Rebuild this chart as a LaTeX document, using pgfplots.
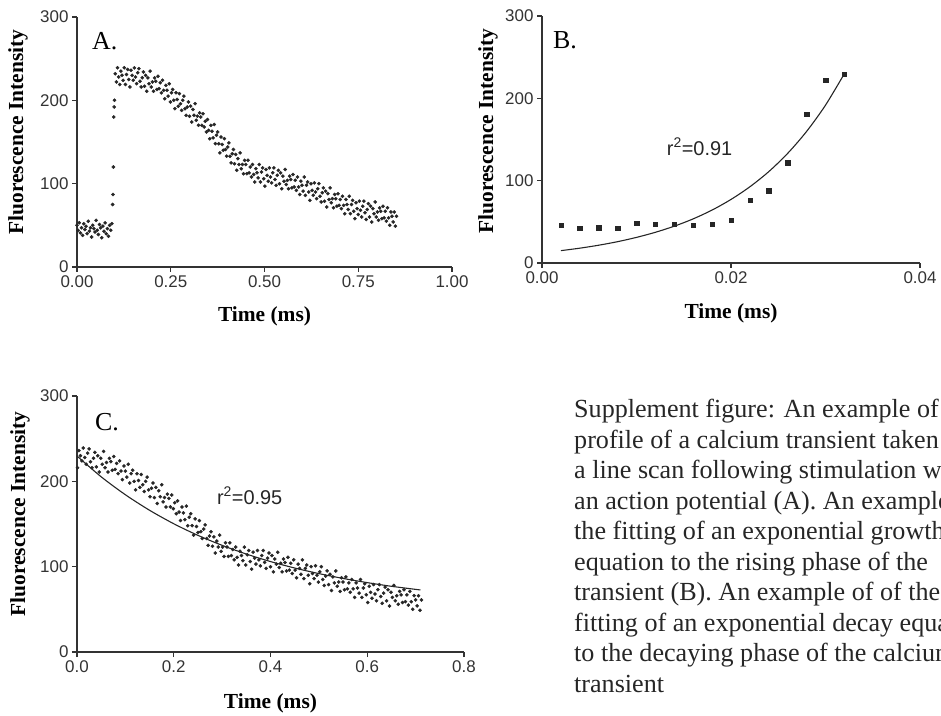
\documentclass[border=0pt]{standalone}
\usepackage{pgfplots}
\usepackage{pgfplotstable}
\pgfplotsset{compat=1.18}
\usepackage{fontspec}
\setmainfont{Liberation Serif}
\newfontfamily\arial{Liberation Sans}

\pgfplotstableread{
t F
0.000 50
0.003 44
0.006 53
0.009 41
0.012 47
0.015 38
0.018 52
0.021 45
0.024 49
0.027 40
0.030 55
0.033 43
0.036 47
0.039 36
0.042 50
0.045 46
0.048 42
0.051 56
0.054 44
0.057 39
0.060 51
0.063 47
0.066 35
0.069 49
0.072 43
0.075 53
0.078 40
0.081 46
0.084 37
0.087 50
0.090 44
0.093 52
0.095 75
0.096 87
0.097 120
0.098 180
0.099 192
0.100 200
0.102 232
0.105 222
0.108 239
0.111 228
0.114 219
0.117 235
0.120 230
0.123 224
0.126 239
0.129 219
0.132 231
0.135 237
0.138 225
0.141 216
0.144 236
0.147 230
0.150 224
0.153 239
0.156 228
0.159 220
0.162 233
0.165 238
0.168 223
0.171 216
0.174 227
0.177 234
0.180 217
0.183 230
0.186 211
0.189 227
0.192 220
0.195 235
0.198 216
0.201 222
0.204 211
0.207 227
0.210 223
0.213 213
0.216 229
0.219 214
0.222 221
0.225 209
0.228 224
0.231 212
0.234 202
0.237 218
0.240 212
0.243 205
0.246 220
0.249 198
0.252 209
0.255 213
0.258 200
0.261 190
0.264 209
0.267 201
0.270 193
0.273 208
0.276 196
0.279 188
0.282 200
0.285 205
0.288 190
0.291 182
0.294 192
0.297 198
0.300 181
0.303 193
0.306 174
0.309 189
0.312 182
0.315 196
0.318 176
0.321 181
0.324 170
0.327 185
0.330 180
0.333 170
0.336 184
0.339 168
0.342 175
0.345 162
0.348 177
0.351 164
0.354 154
0.357 170
0.360 163
0.363 155
0.366 171
0.369 148
0.372 158
0.375 162
0.378 148
0.381 137
0.384 156
0.387 147
0.390 140
0.393 154
0.396 141
0.399 133
0.402 144
0.405 149
0.408 133
0.411 125
0.414 136
0.417 141
0.420 124
0.423 135
0.426 116
0.429 130
0.432 123
0.435 137
0.438 118
0.441 123
0.444 112
0.447 128
0.450 123
0.453 112
0.456 128
0.459 113
0.462 120
0.465 108
0.468 123
0.471 111
0.474 102
0.477 118
0.480 113
0.483 107
0.486 123
0.489 102
0.492 114
0.495 119
0.498 106
0.501 97
0.504 117
0.507 110
0.510 103
0.513 119
0.516 108
0.519 101
0.522 113
0.525 119
0.528 105
0.531 98
0.534 110
0.537 116
0.540 100
0.543 113
0.546 94
0.549 109
0.552 103
0.555 117
0.558 99
0.561 104
0.564 94
0.567 109
0.570 105
0.573 95
0.576 111
0.579 96
0.582 104
0.585 92
0.588 108
0.591 96
0.594 87
0.597 103
0.600 98
0.603 91
0.606 108
0.609 86
0.612 98
0.615 102
0.618 90
0.621 80
0.624 100
0.627 92
0.630 86
0.633 101
0.636 90
0.639 82
0.642 94
0.645 100
0.648 85
0.651 78
0.654 89
0.657 95
0.660 79
0.663 91
0.666 72
0.669 88
0.672 81
0.675 95
0.678 77
0.681 82
0.684 71
0.687 87
0.690 82
0.693 73
0.696 88
0.699 74
0.702 81
0.705 70
0.708 85
0.711 74
0.714 64
0.717 81
0.720 75
0.723 69
0.726 85
0.729 64
0.732 75
0.735 80
0.738 67
0.741 58
0.744 77
0.747 70
0.750 63
0.753 79
0.756 68
0.759 60
0.762 73
0.765 79
0.768 65
0.771 57
0.774 69
0.777 76
0.780 60
0.783 73
0.786 54
0.789 70
0.792 64
0.795 78
0.798 60
0.801 66
0.804 56
0.807 71
0.810 67
0.813 58
0.816 73
0.819 59
0.822 67
0.825 55
0.828 71
0.831 59
0.834 50
0.837 66
0.840 61
0.843 54
0.846 66
0.849 49
0.852 61
}\dataA

\pgfplotstableread{
t F
0.002 46
0.004 42
0.006 43
0.008 42
0.010 48
0.012 47
0.014 47
0.016 46
0.018 47
0.020 52
0.022 76
0.024 88
0.026 122
0.028 181
0.030 222
0.032 229
}\dataB

\pgfplotstableread{
t F
0.002 15.0
0.004 18.0
0.006 21.6
0.008 25.9
0.010 31.1
0.012 37.3
0.014 44.7
0.016 53.6
0.018 64.3
0.020 77.2
0.022 92.6
0.024 111.0
0.026 133.2
0.028 159.8
0.030 191.7
0.032 230.0
}\fitB

\pgfplotstableread{
t F
0.00 229.7
0.05 205.3
0.10 184.3
0.15 166.1
0.20 150.3
0.25 136.7
0.30 125.0
0.35 114.8
0.40 106.0
0.45 98.4
0.50 91.9
0.55 86.2
0.60 81.3
0.65 77.0
0.71 72.7
}\fitC

\pgfplotsset{
  panel/.style={
    scale only axis,
    axis lines*=left,
    axis line style={line width=1.2bp, black!80},
    tick style={line width=1.2bp, black!80},
    tick align=outside,
    major tick length=5bp,
    scaled ticks=false,
    ymin=0, ymax=300, ytick={0,100,200,300},
    tick label style={font=\arial\fontsize{17}{17}\selectfont, text=black!80},
    /pgf/number format/assume math mode=true,
    xlabel={Time (ms)},
    ylabel={Fluorescence Intensity},
    label style={font=\bfseries\fontsize{21.5}{21.5}\selectfont},
    clip=false,
  },
  dots/.style={only marks, mark=*, mark size=1.6bp, black!85, mark options={draw=none, fill=black!85}},
}

\begin{document}
\begin{tikzpicture}
\path[use as bounding box] (0,0) rectangle (941bp,716bp);

% Panel A
\begin{axis}[panel,
  at={(77bp,449bp)}, anchor=south west,
  width=375bp, height=250bp,
  xmin=0, xmax=1, xtick={0,0.25,0.5,0.75,1},
  xticklabels={0.00,0.25,0.50,0.75,1.00},
  xlabel style={at={(axis description cs:0.5,-0.196)}, anchor=center},
  ylabel style={at={(axis description cs:-0.157,0.54)}, anchor=center},
]
\addplot[dots] table[x=t, y=F] {\dataA};
\node[anchor=base west, inner sep=0, font=\fontsize{26}{26}\selectfont] at (axis cs:0.04,260.4) {A.};
\end{axis}

% Panel B
\begin{axis}[panel,
  at={(542bp,453bp)}, anchor=south west,
  width=378bp, height=247bp,
  xmin=0, xmax=0.04, xtick={0,0.02,0.04},
  xticklabels={0.00,0.02,0.04},
  xlabel style={at={(axis description cs:0.5,-0.202)}, anchor=center},
  ylabel style={at={(axis description cs:-0.143,0.534)}, anchor=center},
]
\addplot[only marks, mark=square*, mark size=2.2bp, black!85] table[x=t, y=F] {\dataB};
\addplot[black!85, line width=1.1bp, smooth] table[x=t, y=F] {\fitB};
\node[anchor=west, inner sep=0, font=\arial\fontsize{20}{20}\selectfont, text=black!85] at (axis cs:0.0132,141) {r\textsuperscript{2}=0.91};
\node[anchor=base west, inner sep=0, font=\fontsize{26}{26}\selectfont] at (axis cs:0.00116,261) {B.};
\end{axis}

% Panel C
\begin{axis}[panel,
  at={(77bp,64bp)}, anchor=south west,
  width=387bp, height=256bp,
  xmin=0, xmax=0.8, xtick={0,0.2,0.4,0.6,0.8},
  xticklabels={0.0,0.2,0.4,0.6,0.8},
  xlabel style={at={(axis description cs:0.5,-0.199)}, anchor=center},
  ylabel style={at={(axis description cs:-0.147,0.539)}, anchor=center},
]
\addplot[dots, restrict x to domain=0:0.715] table[x expr=\thisrow{t}-0.14, y=F] {\dataA};
\addplot[black!85, line width=1.1bp, smooth] table[x=t, y=F] {\fitC};
\node[anchor=west, inner sep=0, font=\arial\fontsize{20}{20}\selectfont, text=black!85] at (axis cs:0.289,183) {r\textsuperscript{2}=0.95};
\node[anchor=base west, inner sep=0, font=\fontsize{26}{26}\selectfont] at (axis cs:0.0372,260) {C.};
\end{axis}

% Caption text
\begin{scope}[every node/.style={anchor=base west, inner sep=0, font=\fontsize{26.2}{26.2}\selectfont, text=black!85}]
\node at (574bp,298bp) {Supplement figure: An example of a};
\node at (574bp,267.5bp) {profile of a calcium transient taken from};
\node at (574bp,237bp) {a line scan following stimulation with};
\node at (574bp,206.5bp) {an action potential (A). An example of};
\node at (574bp,176bp) {the fitting of an exponential growth};
\node at (574bp,145.5bp) {equation to the rising phase of the};
\node at (574bp,115bp) {transient (B). An example of of the};
\node at (574bp,84.5bp) {fitting of an exponential decay equation};
\node at (574bp,54bp) {to the decaying phase of the calcium};
\node at (574bp,23.5bp) {transient};
\end{scope}
\end{tikzpicture}
\end{document}
